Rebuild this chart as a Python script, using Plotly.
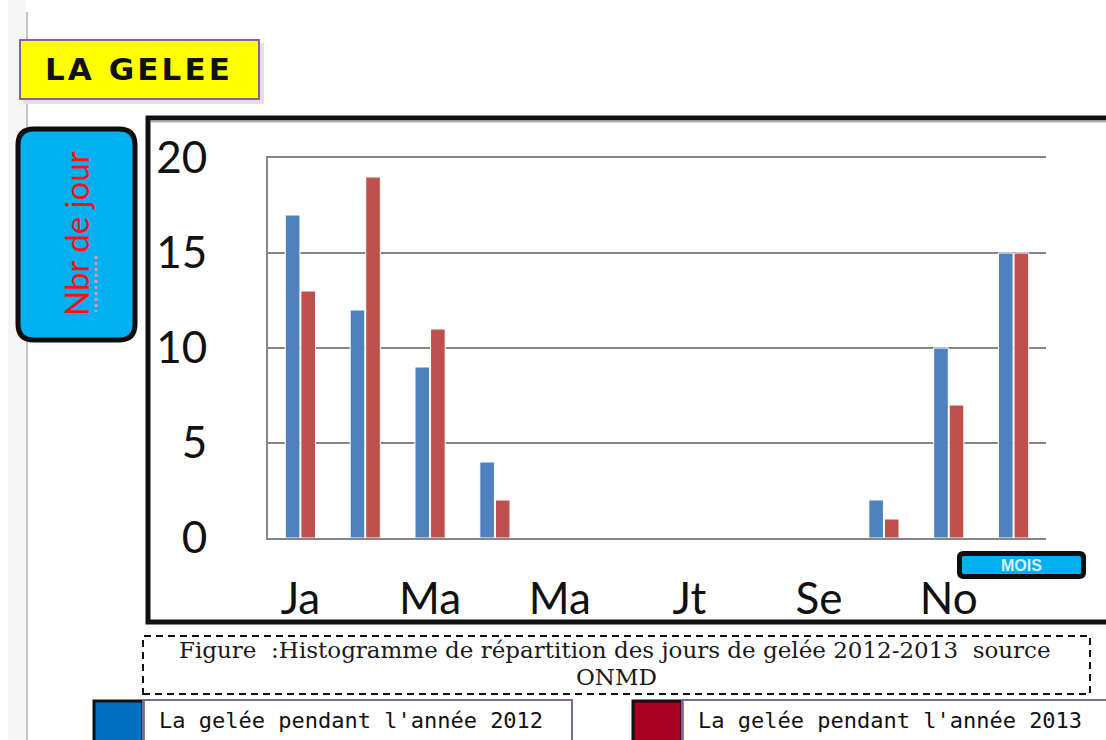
import plotly.graph_objects as go

# Frost days per month (2012 vs 2013), source ONMD
mois = ["Ja", "Fe", "Ma", "Av", "Ma", "Jn", "Jt", "Ao", "Se", "Oc", "No", "De"]
gelee_2012 = [17, 12, 9, 4, 0, 0, 0, 0, 0, 2, 10, 15]
gelee_2013 = [13, 19, 11, 2, 0, 0, 0, 0, 0, 1, 7, 15]
y_ticks = [0, 5, 10, 15, 20]

W, H = 1106, 740


def X(px):
    return px / W


def Y(py):
    return 1 - py / H


def rect(x0, y0, x1, y1, line_color, line_width, fill="rgba(0,0,0,0)", dash="solid"):
    return dict(type="rect", xref="paper", yref="paper",
                x0=X(x0), y0=Y(y1), x1=X(x1), y1=Y(y0),
                line=dict(color=line_color, width=line_width, dash=dash),
                fillcolor=fill, layer="above")


def round_rect(x0, y0, x1, y1, r, line_color, line_width, fill):
    pts = [
        f"M {X(x0 + r)},{Y(y0)}",
        f"L {X(x1 - r)},{Y(y0)}",
        f"Q {X(x1)},{Y(y0)} {X(x1)},{Y(y0 + r)}",
        f"L {X(x1)},{Y(y1 - r)}",
        f"Q {X(x1)},{Y(y1)} {X(x1 - r)},{Y(y1)}",
        f"L {X(x0 + r)},{Y(y1)}",
        f"Q {X(x0)},{Y(y1)} {X(x0)},{Y(y1 - r)}",
        f"L {X(x0)},{Y(y0 + r)}",
        f"Q {X(x0)},{Y(y0)} {X(x0 + r)},{Y(y0)}",
        "Z",
    ]
    return dict(type="path", xref="paper", yref="paper", path=" ".join(pts),
                line=dict(color=line_color, width=line_width),
                fillcolor=fill, layer="above")


def line(x0, y0, x1, y1, color, width, dash="solid"):
    return dict(type="line", xref="paper", yref="paper",
                x0=X(x0), y0=Y(y0), x1=X(x1), y1=Y(y1),
                line=dict(color=color, width=width, dash=dash), layer="above")


x_idx = list(range(len(mois)))

fig = go.Figure()
fig.add_trace(go.Bar(x=x_idx, y=gelee_2012, name="2012",
                     marker=dict(color="#4f81bd", line=dict(color="white", width=1))))
fig.add_trace(go.Bar(x=x_idx, y=gelee_2013, name="2013",
                     marker=dict(color="#c0504d", line=dict(color="white", width=1))))

shapes = [
    # page margin strip and line
    dict(type="rect", xref="paper", yref="paper", x0=X(8), x1=X(26), y0=0, y1=1,
         fillcolor="#f6f6f6", line=dict(width=0), layer="below"),
    line(27, 12, 27, 740, "#c4c4c4", 2),
    # title box with shadow
    rect(23, 43, 264, 104, "rgba(0,0,0,0)", 0, fill="#e2e2e2"),
    rect(20, 40, 259, 99, "#8064a2", 2, fill="#ffff00"),
    # y-axis caption box
    round_rect(18, 129, 135, 340, 16, "#0d0d0d", 5, "#00b0f0"),
    # chart frame
    rect(148, 118, 1114, 622, "#111111", 5),
    line(151, 121.5, 1114, 121.5, "#b0b0b0", 2),
    # month caption box
    round_rect(959.5, 553.5, 1083.5, 576.5, 4, "#0d0d0d", 5, "#00b0f0"),
    # figure caption box
    rect(143, 636, 1090, 694, "#111111", 2, dash="7px,5px"),
    # legend items
    rect(94, 701, 143, 750, "#111111", 3, fill="#0070c0"),
    rect(143, 700, 572, 752, "#8064a2", 2),
    rect(633, 701, 682, 750, "#111111", 3, fill="#a50021"),
    rect(682, 700, 1120, 752, "#8064a2", 2),
    # spelling squiggle under "Nbr"
    line(96, 256, 96, 312, "#d59ab8", 3, dash="dot"),
]

hs = "\u200a"
annotations = [
    dict(text="<b>" + hs.join("LA GELEE") + "</b>", x=X(137), y=Y(69),
         font=dict(family="DejaVu Sans", size=31, color="#111111")),
    dict(text="Nbr de jour", x=X(76), y=Y(234), textangle=-90,
         font=dict(family="Lato", size=33, color="#ff1010")),
    dict(text="<b>MOIS</b>", x=X(1021), y=Y(565),
         font=dict(family="Liberation Sans", size=16, color="#d6f2ff")),
    dict(text="Figure  :Histogramme de répartition des jours de gelée 2012-2013  source",
         x=X(615), y=Y(650),
         font=dict(family="DejaVu Serif", size=23, color="#1a1a1a")),
    dict(text="ONMD", x=X(616), y=Y(677),
         font=dict(family="DejaVu Serif", size=23, color="#1a1a1a")),
    dict(text="La gelée pendant l'année 2012", x=X(157), y=Y(720), xanchor="left",
         font=dict(family="DejaVu Sans Mono", size=22, color="#111111")),
    dict(text="La gelée pendant l'année 2013", x=X(696), y=Y(720), xanchor="left",
         font=dict(family="DejaVu Sans Mono", size=22, color="#111111")),
]
for a in annotations:
    a.setdefault("xanchor", "center")
    a.update(xref="paper", yref="paper", yanchor="middle", showarrow=False)

fig.update_layout(
    width=W, height=H,
    margin=dict(l=0, r=0, t=0, b=0, autoexpand=False),
    paper_bgcolor="white", plot_bgcolor="white",
    showlegend=False,
    barmode="group", bargap=0.52, bargroupgap=0.06,
    shapes=shapes, annotations=annotations,
    xaxis=dict(domain=[X(268), X(1046)], range=[-0.5, 11.5],
               tickvals=x_idx[::2], ticktext=mois[::2],
               tickfont=dict(family="Lato", size=44, color="#111111"),
               showline=True, mirror=True, linecolor="#868686", linewidth=2,
               showgrid=False, zeroline=False, ticks="", ticklabelstandoff=21,
               automargin=False),
    yaxis=dict(domain=[Y(538), Y(158)], range=[0, 20], tickvals=y_ticks,
               tickfont=dict(family="Lato", size=44, color="#111111"),
               showline=True, linecolor="#868686", linewidth=2,
               showgrid=True, gridcolor="#868686", gridwidth=2,
               zeroline=False, ticks="", ticklabelstandoff=50,
               automargin=False),
)

fig.write_html("out.html")
